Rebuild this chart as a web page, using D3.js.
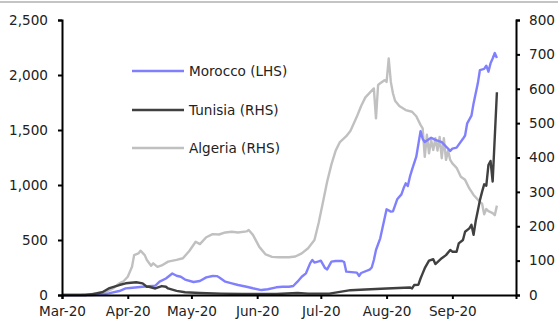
<!DOCTYPE html>
<html>
<head>
<meta charset="utf-8">
<script src="https://cdn.jsdelivr.net/npm/d3@7"></script>
<style>
  html, body { margin: 0; padding: 0; background: #fff; }
  svg { display: block; }
  text { font-family: "DejaVu Sans", "Noto Sans", sans-serif; fill: #222; }
</style>
</head>
<body>
<svg id="chart" width="558" height="322"></svg>
<script>
// Daily new cases, 2020 (Morocco on the left axis, Tunisia and Algeria on the right)
const morocco = [
  ["2020-03-01", 0], ["2020-03-15", 0], ["2020-03-20", 5], ["2020-03-23", 15], ["2020-03-28", 36],
  ["2020-03-31", 60], ["2020-04-02", 64], ["2020-04-08", 75], ["2020-04-14", 85], ["2020-04-16", 121],
  ["2020-04-19", 150], ["2020-04-22", 195], ["2020-04-24", 175], ["2020-04-26", 166], ["2020-04-28", 140],
  ["2020-05-02", 118], ["2020-05-05", 127], ["2020-05-08", 160], ["2020-05-11", 173], ["2020-05-13", 172],
  ["2020-05-14", 161], ["2020-05-17", 121], ["2020-05-20", 106], ["2020-05-23", 91], ["2020-05-27", 75],
  ["2020-05-30", 61], ["2020-06-03", 45], ["2020-06-06", 52], ["2020-06-10", 70], ["2020-06-13", 75],
  ["2020-06-16", 75], ["2020-06-18", 82], ["2020-06-20", 121], ["2020-06-22", 166], ["2020-06-24", 197],
  ["2020-06-26", 290], ["2020-06-27", 318], ["2020-06-28", 295], ["2020-06-30", 305], ["2020-07-01", 312],
  ["2020-07-03", 245], ["2020-07-04", 233], ["2020-07-06", 303], ["2020-07-08", 309], ["2020-07-11", 309],
  ["2020-07-12", 300], ["2020-07-13", 212], ["2020-07-18", 203], ["2020-07-19", 173], ["2020-07-20", 200],
  ["2020-07-24", 230], ["2020-07-25", 250], ["2020-07-26", 318], ["2020-07-27", 409], ["2020-07-29", 515],
  ["2020-08-01", 779], ["2020-08-03", 758], ["2020-08-04", 760], ["2020-08-06", 870], ["2020-08-08", 915],
  ["2020-08-09", 970], ["2020-08-10", 1015], ["2020-08-11", 990], ["2020-08-12", 1076], ["2020-08-13", 1140],
  ["2020-08-15", 1257], ["2020-08-17", 1490], ["2020-08-18", 1420], ["2020-08-19", 1390], ["2020-08-22", 1430],
  ["2020-08-24", 1410], ["2020-08-27", 1390], ["2020-08-29", 1350], ["2020-08-31", 1310], ["2020-09-01", 1330],
  ["2020-09-03", 1340], ["2020-09-06", 1420], ["2020-09-07", 1450], ["2020-09-08", 1561], ["2020-09-10", 1630],
  ["2020-09-11", 1742], ["2020-09-13", 1924], ["2020-09-14", 2045], ["2020-09-16", 2055], ["2020-09-17", 2085],
  ["2020-09-18", 2030], ["2020-09-19", 2106], ["2020-09-20", 2150], ["2020-09-21", 2200], ["2020-09-22", 2155]
];

const tunisia = [
  ["2020-03-01", 0], ["2020-03-12", 0], ["2020-03-15", 2], ["2020-03-20", 8], ["2020-03-23", 19],
  ["2020-03-28", 29], ["2020-03-31", 34], ["2020-04-05", 37], ["2020-04-08", 34], ["2020-04-10", 24],
  ["2020-04-11", 24], ["2020-04-14", 19], ["2020-04-17", 26], ["2020-04-19", 24], ["2020-04-20", 19],
  ["2020-04-24", 12], ["2020-04-28", 8], ["2020-05-05", 6], ["2020-05-15", 4], ["2020-05-25", 3],
  ["2020-06-10", 3], ["2020-06-20", 6], ["2020-06-25", 4], ["2020-07-05", 4], ["2020-07-15", 14],
  ["2020-07-22", 16], ["2020-08-01", 19], ["2020-08-12", 22], ["2020-08-13", 19], ["2020-08-14", 29],
  ["2020-08-16", 30], ["2020-08-17", 48], ["2020-08-18", 63], ["2020-08-19", 78], ["2020-08-21", 100],
  ["2020-08-23", 104], ["2020-08-24", 90], ["2020-08-27", 107], ["2020-08-29", 116], ["2020-08-31", 131],
  ["2020-09-01", 126], ["2020-09-03", 126], ["2020-09-04", 150], ["2020-09-06", 160], ["2020-09-07", 184],
  ["2020-09-09", 194], ["2020-09-10", 204], ["2020-09-11", 175], ["2020-09-12", 215], ["2020-09-13", 245],
  ["2020-09-14", 276], ["2020-09-15", 300], ["2020-09-16", 322], ["2020-09-17", 318], ["2020-09-18", 378],
  ["2020-09-19", 390], ["2020-09-20", 330], ["2020-09-21", 460], ["2020-09-22", 590]
];

const algeria = [
  ["2020-03-01", 0], ["2020-03-10", 1], ["2020-03-15", 3], ["2020-03-20", 8], ["2020-03-22", 10],
  ["2020-03-25", 19], ["2020-03-28", 34], ["2020-03-30", 40], ["2020-04-01", 53], ["2020-04-03", 82],
  ["2020-04-04", 116], ["2020-04-06", 121], ["2020-04-07", 129], ["2020-04-09", 116], ["2020-04-10", 102],
  ["2020-04-12", 85], ["2020-04-13", 92], ["2020-04-15", 82], ["2020-04-17", 86], ["2020-04-20", 97],
  ["2020-04-24", 102], ["2020-04-27", 107], ["2020-04-30", 128], ["2020-05-03", 155], ["2020-05-05", 148],
  ["2020-05-08", 168], ["2020-05-11", 177], ["2020-05-14", 176], ["2020-05-17", 182], ["2020-05-20", 184],
  ["2020-05-23", 182], ["2020-05-27", 185], ["2020-05-28", 189], ["2020-05-30", 175], ["2020-06-02", 140],
  ["2020-06-05", 118], ["2020-06-08", 111], ["2020-06-11", 110], ["2020-06-16", 110], ["2020-06-19", 112],
  ["2020-06-22", 121], ["2020-06-25", 136], ["2020-06-28", 160], ["2020-06-30", 210], ["2020-07-02", 270],
  ["2020-07-04", 330], ["2020-07-06", 380], ["2020-07-08", 420], ["2020-07-10", 445], ["2020-07-13", 462],
  ["2020-07-15", 478], ["2020-07-18", 519], ["2020-07-20", 550], ["2020-07-22", 575], ["2020-07-24", 588],
  ["2020-07-26", 601], ["2020-07-27", 514], ["2020-07-28", 611], ["2020-07-29", 616], ["2020-07-31", 625],
  ["2020-08-01", 620], ["2020-08-02", 688], ["2020-08-03", 620], ["2020-08-04", 587], ["2020-08-05", 565],
  ["2020-08-07", 550], ["2020-08-10", 538], ["2020-08-13", 533], ["2020-08-15", 520], ["2020-08-17", 495],
  ["2020-08-18", 485], ["2020-08-19", 402], ["2020-08-20", 466], ["2020-08-21", 412], ["2020-08-22", 451],
  ["2020-08-23", 422], ["2020-08-24", 456], ["2020-08-25", 420], ["2020-08-26", 460], ["2020-08-27", 398],
  ["2020-08-28", 456], ["2020-08-29", 393], ["2020-08-30", 420], ["2020-08-31", 393], ["2020-09-01", 383],
  ["2020-09-03", 370], ["2020-09-05", 344], ["2020-09-07", 335], ["2020-09-09", 310], ["2020-09-11", 291],
  ["2020-09-14", 271], ["2020-09-15", 266], ["2020-09-16", 235], ["2020-09-17", 250], ["2020-09-18", 244],
  ["2020-09-20", 238], ["2020-09-21", 232], ["2020-09-22", 260]
];

const monthTicks = ["2020-03-01", "2020-04-01", "2020-05-01", "2020-06-01", "2020-07-01", "2020-08-01", "2020-09-01"];
const leftTicks = [0, 500, 1000, 1500, 2000, 2500];
const rightTicks = [0, 100, 200, 300, 400, 500, 600, 700, 800];

const seriesNames = ["Morocco (LHS)", "Tunisia (RHS)", "Algeria (RHS)"];
const seriesColors = ["#8080ff", "#404040", "#c0c0c0"];

const parse = d3.utcParse("%Y-%m-%d");
const svg = d3.select("#chart");
const FONT = '"DejaVu Sans", "Noto Sans", sans-serif';
const FONT_SIZE = "13.6px";

const margin = { left: 62, right: 42, top: 20, bottom: 27 };
const W = 558, H = 322;

const x = d3.scaleUtc()
  .domain([parse("2020-03-01"), parse("2020-10-01")])
  .range([margin.left, W - margin.right]);
const yL = d3.scaleLinear().domain([0, 2500]).range([H - margin.bottom, margin.top]);
const yR = d3.scaleLinear().domain([0, 800]).range([H - margin.bottom, margin.top]);

// thin rule across the top
svg.append("rect").attr("x", 0).attr("y", 1).attr("width", W).attr("height", 2).attr("fill", "#c4c4c4");

// lines: Algeria first, then Morocco, then Tunisia on top
const lineL = d3.line().x(d => x(parse(d[0]))).y(d => yL(d[1]));
const lineR = d3.line().x(d => x(parse(d[0]))).y(d => yR(d[1]));

const plot = svg.append("g");
plot.append("path").datum(algeria).attr("d", lineR)
  .attr("fill", "none").attr("stroke", seriesColors[2]).attr("stroke-width", 2.4).attr("stroke-linejoin", "round");
plot.append("path").datum(morocco).attr("d", lineL)
  .attr("fill", "none").attr("stroke", seriesColors[0]).attr("stroke-width", 2.4).attr("stroke-linejoin", "round");
plot.append("path").datum(tunisia).attr("d", lineR)
  .attr("fill", "none").attr("stroke", seriesColors[1]).attr("stroke-width", 2.4).attr("stroke-linejoin", "round");

// axes
function styleAxis(g) {
  g.selectAll(".domain").attr("stroke", "#000").attr("stroke-width", 2);
  g.selectAll(".tick line").attr("stroke", "#000").attr("stroke-width", 2);
  g.selectAll(".tick text").attr("fill", "#222").style("font-size", FONT_SIZE).style("font-family", FONT);
}

svg.append("g")
  .attr("transform", `translate(${margin.left},0)`)
  .call(d3.axisLeft(yL).tickValues(leftTicks).tickFormat(d3.format(",")).tickSizeOuter(0).tickSize(4).tickPadding(10))
  .call(styleAxis);

svg.append("g")
  .attr("transform", `translate(${W - margin.right},0)`)
  .call(d3.axisRight(yR).tickValues(rightTicks).tickSizeOuter(0).tickSize(4).tickPadding(9))
  .call(styleAxis);

svg.append("g")
  .attr("transform", `translate(0,${H - margin.bottom})`)
  .call(d3.axisBottom(x).tickValues(monthTicks.map(parse)).tickFormat(d3.utcFormat("%b-%y")).tickSizeOuter(0).tickSize(4).tickPadding(7))
  .call(styleAxis);

// legend
const legendY = [71, 110, 148];
const legend = svg.append("g");
seriesNames.forEach((name, i) => {
  legend.append("line")
    .attr("x1", 132).attr("x2", 184).attr("y1", legendY[i]).attr("y2", legendY[i])
    .attr("stroke", seriesColors[i]).attr("stroke-width", 2.4);
  legend.append("text")
    .attr("x", 189).attr("y", legendY[i]).attr("dy", "0.36em")
    .style("font-size", FONT_SIZE).style("font-family", FONT).text(name);
});
</script>
</body>
</html>
